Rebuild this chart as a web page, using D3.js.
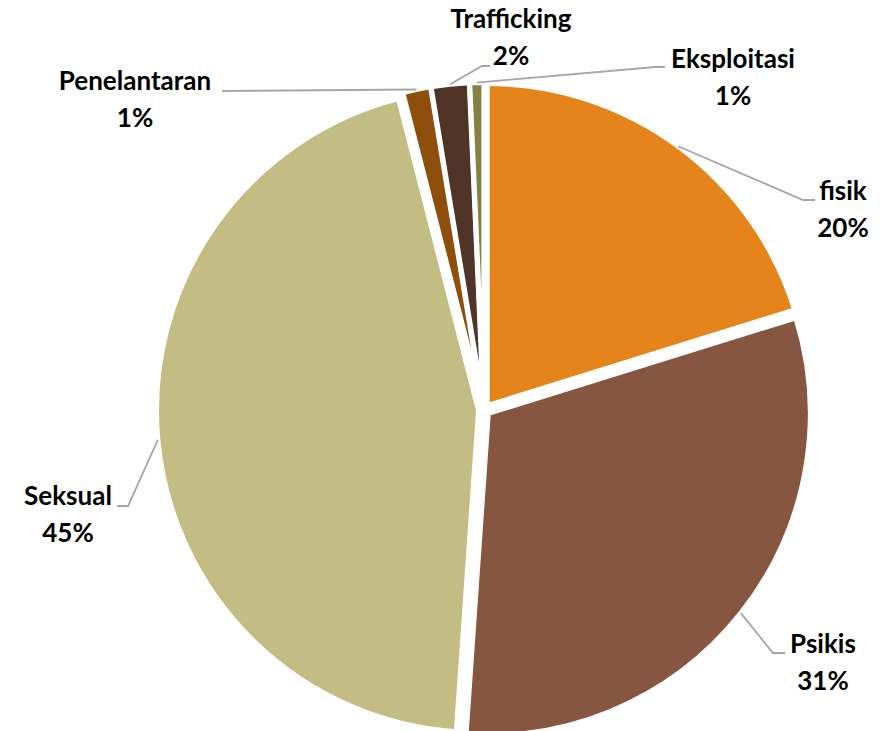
<!DOCTYPE html>
<html>
<head>
<meta charset="utf-8">
<script src="https://cdn.jsdelivr.net/npm/d3@7"></script>
<style>
  body { margin: 0; background: #fff; }
  svg { display: block; }
  .lbl { font-family: Lato, "Open Sans", sans-serif; font-weight: 700; font-size: 26px; fill: #000; }
</style>
</head>
<body>
<svg id="chart"></svg>
<script>
const categories = ["fisik", "Psikis", "Seksual", "Penelantaran", "Trafficking", "Eksploitasi"];
const values = [20.2, 30.9, 44.9, 1.4, 1.9, 0.7];
const colors = ["#E5841A", "#875641", "#C3BC83", "#8E4F0C", "#4F3427", "#868042"];

// label layout: text centre x, first baseline y, leader end and elbow
const labelLayout = [
  { x: 843, y: 200, ex: 815, ey: 200, bx: 803 },
  { x: 823, y: 653, ex: 785, ey: 653, bx: 773 },
  { x: 68, y: 505, ex: 117, ey: 506, bx: 128 },
  { x: 135, y: 90, ex: 222, ey: 91, bx: 222 },
  { x: 511, y: 28, ex: 490, ey: 66, bx: 482 },
  { x: 733, y: 68, ex: 665, ey: 67, bx: 655 }
];

const width = 889,
  height = 731,
  cx = 484,
  cy = 410,
  radius = 322,
  explode = 5.5,
  lineGap = 37;

const svg = d3.select("#chart").attr("width", width).attr("height", height);

const data = categories.map((c, i) => ({ name: c, value: values[i] }));
const total = d3.sum(values);
const fmt = d3.format(".0%");

const pie = d3
  .pie()
  .sort(null)
  .value(d => d.value);

const arc = d3.arc().innerRadius(0).outerRadius(radius);

const arcs = pie(data);
const g = svg.append("g").attr("transform", "translate(" + cx + "," + cy + ")");

const mid = d => (d.startAngle + d.endAngle) / 2;

g.selectAll("path")
  .data(arcs)
  .enter()
  .append("path")
  .attr("d", arc)
  .attr("transform", d => "translate(" + Math.sin(mid(d)) * explode + "," + -Math.cos(mid(d)) * explode + ")")
  .attr("fill", (d, i) => colors[i])
  .attr("stroke", "#fff")
  .attr("stroke-width", 5)
  .attr("stroke-linejoin", "miter");

// leader lines
svg
  .selectAll("polyline.leader")
  .data(arcs)
  .enter()
  .append("polyline")
  .attr("class", "leader")
  .attr("points", (d, i) => {
    const r = radius + explode,
      a = mid(d),
      L = labelLayout[i];
    const sx = cx + Math.sin(a) * r,
      sy = cy - Math.cos(a) * r;
    return [[sx, sy], [L.bx, L.ey], [L.ex, L.ey]].map(p => p.join(",")).join(" ");
  })
  .attr("fill", "none")
  .attr("stroke", "#A6A6A6")
  .attr("stroke-width", 1.8);

const labels = svg
  .selectAll("text.lbl")
  .data(arcs)
  .enter()
  .append("text")
  .attr("class", "lbl")
  .attr("text-anchor", "middle")
  .attr("x", (d, i) => labelLayout[i].x)
  .attr("y", (d, i) => labelLayout[i].y);

labels.append("tspan").text(d => d.data.name);
labels
  .append("tspan")
  .attr("x", (d, i) => labelLayout[i].x)
  .attr("dy", lineGap)
  .text(d => fmt(d.data.value / total));
</script>
</body>
</html>
